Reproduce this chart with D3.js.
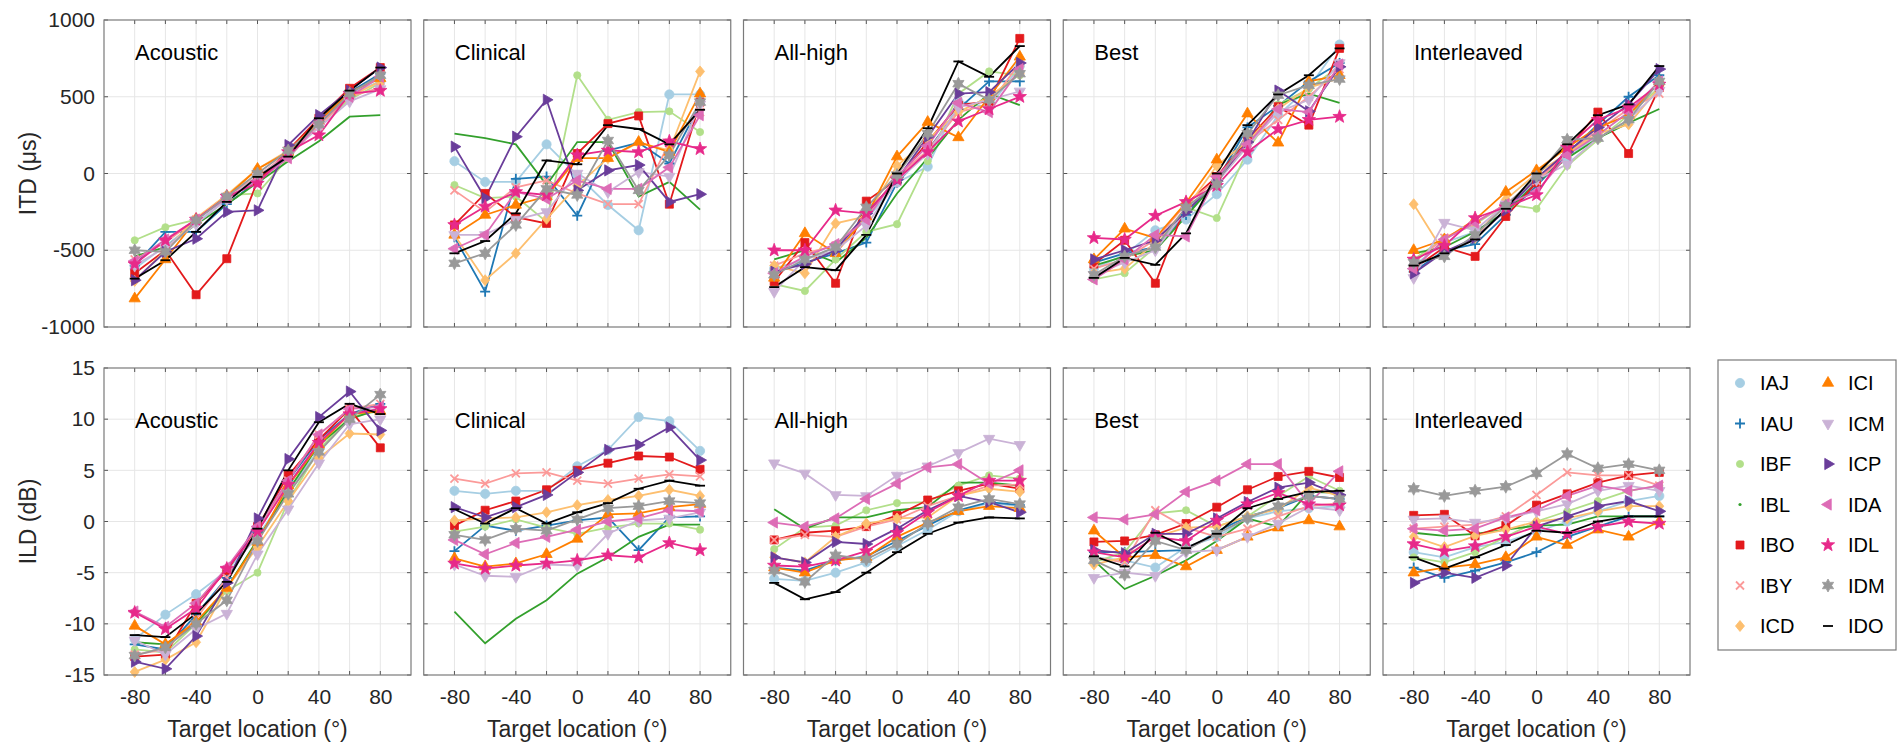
<!DOCTYPE html>
<html>
<head>
<meta charset="utf-8">
<script src="https://cdn.jsdelivr.net/npm/d3@7"></script>
<style>
  body { margin: 0; background: #fff; }
  svg { display: block; font-family: "Liberation Sans", Arial, sans-serif; }
</style>
</head>
<body>
<script>
const angles = [-80, -60, -40, -20, 0, 20, 40, 60, 80];
const subjects = ["IAJ","IAU","IBF","IBL","IBO","IBY","ICD","ICI","ICM","ICP","IDA","IDL","IDM","IDO"];
const colors = ["#a6cee3","#1f78b4","#b2df8a","#33a02c","#e31a1c","#fb9a99","#fdbf6f","#ff7f00","#cab2d6","#6a3d9a","#dd6cb6","#e7298a","#999999","#000000"];
const markers = ["circle","plus","dot","point","square","x","diamond","triUp","triDown","triRight","triLeft","star","hexagram","dash"];
const conditions = ["Acoustic","Clinical","All-high","Best","Interleaved"];
const itdTicks = [-1000, -500, 0, 500, 1000];
const ildTicks = [-15, -10, -5, 0, 5, 10, 15];
const xTickLabels = [-80, -40, 0, 40, 80];

// ITD (us), rows follow subjects
const itdAcoustic = [
  [-620,-470,-320,-170,-40,120,330,520,600],
  [-600,-380,-380,-200,-50,110,340,530,650],
  [-435,-350,-300,-140,-130,100,320,480,590],
  [-540,-480,-330,-200,-60,80,210,370,380],
  [-650,-500,-790,-555,-50,150,360,555,690],
  [-560,-450,-300,-150,-20,130,310,500,560],
  [-700,-500,-290,-140,30,150,330,500,600],
  [-815,-560,-300,-150,30,140,340,530,620],
  [-600,-480,-330,-170,-20,120,300,470,550],
  [-695,-510,-425,-250,-240,185,380,540,690],
  [-570,-430,-300,-160,-50,100,330,500,630],
  [-590,-435,-300,-150,-65,140,250,520,540],
  [-500,-510,-305,-150,0,150,320,520,640],
  [-685,-565,-380,-185,-22,110,360,540,690]
];
const itdClinical = [
  [80,-55,-55,190,-10,-205,-370,515,515],
  [-415,-770,-35,-20,-275,150,200,65,450],
  [-75,-160,-150,-315,640,350,400,405,270],
  [260,230,190,-75,205,205,-150,-55,-235],
  [-335,-130,-285,-325,130,325,375,-200,465],
  [-110,-250,-90,-45,-130,-200,-200,200,400],
  [-400,-695,-520,-295,-80,100,200,150,665],
  [-400,-270,-205,-150,100,100,205,140,520],
  [-400,-400,-300,-250,0,-120,10,-20,450],
  [175,-160,240,480,-110,20,55,-185,-135],
  [-490,-400,-120,-165,-45,-100,-100,40,380],
  [-335,-215,-120,-140,120,150,140,210,160],
  [-585,-520,-335,-100,-140,215,-110,120,465],
  [-520,-440,-260,85,60,315,290,190,415]
];
const itdAllHigh = [
  [-620,-560,-480,-300,-60,45,470,430,700],
  [-640,-580,-520,-450,-60,150,420,600,600],
  [-720,-765,-560,-380,-330,80,520,665,640],
  [-560,-500,-580,-420,-130,100,350,520,445],
  [-705,-450,-715,-180,-40,205,445,470,880],
  [-600,-520,-470,-280,-20,150,400,450,720],
  [-600,-650,-325,-280,50,220,400,500,650],
  [-680,-390,-520,-280,110,335,235,500,760],
  [-770,-560,-500,-340,-50,130,430,480,535],
  [-640,-590,-500,-260,-40,240,520,530,720],
  [-650,-540,-460,-300,-20,180,460,400,680],
  [-500,-500,-240,-260,-40,140,340,420,500],
  [-660,-560,-480,-220,-10,260,585,480,650],
  [-740,-610,-630,-400,0,295,730,630,830]
];
const itdBest = [
  [-620,-530,-370,-300,-135,90,380,560,840],
  [-580,-520,-480,-270,-50,300,440,600,720],
  [-690,-650,-480,-220,-290,150,450,550,700],
  [-600,-540,-500,-280,-50,180,450,520,460],
  [-590,-435,-715,-200,-20,220,435,315,815],
  [-620,-560,-430,-200,-40,200,350,500,680],
  [-650,-620,-450,-230,50,210,420,560,620],
  [-560,-360,-420,-190,90,390,200,600,640],
  [-660,-580,-500,-240,-60,180,400,480,720],
  [-560,-500,-435,-250,-50,205,540,405,695],
  [-690,-560,-400,-410,-20,190,420,400,710],
  [-420,-430,-275,-185,-80,140,290,350,370],
  [-660,-540,-480,-220,-70,260,510,575,615],
  [-680,-550,-595,-390,0,315,515,640,815]
];
const itdInterleaved = [
  [-600,-450,-380,-250,-40,100,250,400,600],
  [-640,-500,-460,-270,-80,130,320,500,640],
  [-560,-420,-330,-200,-230,50,220,380,560],
  [-520,-480,-380,-250,-60,100,230,330,420],
  [-620,-480,-540,-280,-60,150,400,130,560],
  [-580,-420,-320,-200,-50,130,280,420,520],
  [-200,-520,-420,-170,0,130,260,320,560],
  [-500,-430,-300,-120,20,170,300,380,600],
  [-680,-320,-370,-200,-40,60,230,350,540],
  [-650,-510,-420,-240,-30,140,300,450,680],
  [-620,-430,-320,-200,-120,120,250,400,600],
  [-560,-470,-290,-220,-140,170,350,430,580],
  [-580,-540,-400,-210,-20,220,230,350,600],
  [-600,-520,-430,-230,0,190,380,450,700]
];

// ILD (dB), rows follow subjects
const ildAcoustic = [
  [-11.5,-9.1,-7.1,-4.8,-1.5,3.0,7.0,10.0,11.2],
  [-12.0,-12.5,-9.1,-5.5,-1.0,4.0,8.0,10.5,11.5],
  [-12.5,-12.8,-10.0,-6.8,-5.0,2.0,7.0,10.2,10.8],
  [-11.8,-12.0,-10.0,-6.5,-1.8,3.0,7.5,10.0,11.0],
  [-13.2,-13.0,-8.0,-4.8,-0.5,4.5,8.0,11.0,7.2],
  [-13.0,-12.5,-9.5,-5.5,-1.0,4.0,8.5,11.0,11.5],
  [-14.7,-13.5,-11.8,-6.5,-2.5,2.0,6.2,8.6,8.5],
  [-10.2,-12.0,-9.8,-6.5,-2.0,3.5,7.5,10.5,10.8],
  [-11.6,-13.0,-10.5,-9.0,-3.2,1.2,5.7,9.5,10.0],
  [-13.7,-14.4,-11.2,-6.0,0.3,6.1,10.2,12.7,8.9],
  [-8.8,-10.3,-8.0,-4.5,-0.5,4.0,8.5,11.0,11.2],
  [-8.9,-10.5,-8.5,-4.6,-1.0,3.6,7.7,10.5,11.0],
  [-13.1,-12.3,-10.0,-7.7,-1.9,2.7,6.8,10.0,12.4],
  [-11.1,-11.3,-9.0,-5.9,-0.7,5.0,9.7,11.5,10.5]
];
const ildClinical = [
  [3.0,2.7,3.0,3.0,5.4,7.0,10.2,9.8,6.9],
  [-2.9,-0.4,-0.9,-0.4,0.1,0.4,-2.8,0.4,0.5],
  [-1.0,-0.5,0.2,-0.6,-1.2,-0.6,-0.2,-0.2,-0.8],
  [-8.8,-11.9,-9.5,-7.7,-5.1,-3.5,-1.5,-0.3,-0.3],
  [-0.4,1.1,2.0,3.1,5.0,5.7,6.4,6.3,5.1],
  [4.2,3.7,4.7,4.8,4.0,3.7,4.2,4.6,4.4],
  [0.1,0.3,0.4,0.9,1.6,2.1,2.5,3.1,2.5],
  [-3.6,-4.4,-4.1,-3.2,-1.7,0.7,0.8,1.4,1.7],
  [-4.2,-5.3,-5.4,-4.2,-4.3,-1.2,0.1,0.3,0.9],
  [1.4,0.4,1.4,2.6,4.8,7.0,7.5,9.2,6.0],
  [-1.8,-3.2,-2.1,-1.5,-0.8,0.0,0.3,1.1,1.0],
  [-4.1,-4.6,-4.3,-4.1,-3.8,-3.3,-3.5,-2.1,-2.8],
  [-1.3,-1.8,-0.7,-0.9,0.2,1.3,1.5,2.0,1.8],
  [1.2,-0.2,1.3,-0.2,0.9,1.8,3.2,4.0,3.5]
];
const ildAllHigh = [
  [-5.6,-5.8,-5.0,-4.0,-2.4,-0.8,1.0,1.8,1.5],
  [-4.5,-4.8,-3.8,-3.4,-1.9,-0.4,1.1,1.9,1.6],
  [-2.7,-0.6,-0.4,1.1,1.8,1.9,3.5,4.5,4.2],
  [1.2,-0.7,0.4,0.4,1.1,1.4,3.8,3.8,3.5],
  [-1.8,-1.1,-0.9,-0.5,0.6,2.1,3.0,3.7,3.2],
  [-1.8,-1.3,-1.5,-0.5,0.2,1.5,2.5,3.5,3.6],
  [-3.5,-4.0,-1.5,-0.2,0.3,0.4,2.5,3.2,2.9],
  [-4.5,-5.0,-3.8,-3.5,-1.5,-0.1,1.0,1.5,1.3],
  [5.7,4.7,2.6,2.5,4.5,5.4,6.7,8.1,7.5],
  [-3.5,-4.0,-2.0,-2.2,-0.7,1.1,2.5,1.9,0.9],
  [-0.1,-0.5,0.3,2.2,3.7,5.3,5.6,3.7,5.0],
  [-4.3,-4.4,-3.8,-2.9,-1.1,0.9,2.5,4.0,4.0],
  [-4.8,-5.9,-3.3,-3.7,-2.2,-0.2,1.4,2.2,1.7],
  [-6.0,-7.6,-6.9,-5.0,-3.0,-1.2,-0.1,0.4,0.3]
];
const ildBest = [
  [-3.5,-3.8,-4.5,-2.5,-1.5,0.3,1.0,1.3,1.5],
  [-3.0,-3.0,-2.9,-2.8,-1.0,0.5,1.3,2.5,2.2],
  [-4.0,-3.0,0.8,1.1,-0.5,0.5,2.5,4.4,3.0],
  [-3.8,-6.6,-5.3,-3.8,-1.9,0.3,-0.5,2.9,2.8],
  [-2.0,-1.9,-1.3,-0.2,1.4,3.1,4.4,4.9,4.3],
  [-3.5,-4.0,1.1,-0.6,-1.5,-0.7,0.5,1.5,1.8],
  [-4.2,-3.5,-1.5,-0.6,-0.5,0.5,1.2,3.3,2.5],
  [-0.9,-3.5,-3.3,-4.4,-2.8,-1.5,-0.6,0.1,-0.5],
  [-5.5,-5.0,-5.3,-3.0,-2.8,-1.5,-0.2,1.4,1.1],
  [-2.8,-3.1,-1.2,-1.2,0.3,1.9,3.3,3.8,2.6],
  [0.4,0.2,0.7,2.9,4.0,5.6,5.6,1.7,4.9],
  [-3.0,-3.5,-1.5,-1.9,0.1,1.7,2.8,1.7,1.6],
  [-3.8,-5.2,-1.9,-2.8,-1.2,0.3,1.5,2.5,2.2],
  [-3.4,-4.4,-1.1,-2.6,-1.2,1.3,2.2,2.9,3.0]
];
const ildInterleaved = [
  [-3.0,-3.5,-2.5,-2.0,-1.0,0.0,1.0,2.0,2.5],
  [-4.5,-5.5,-4.8,-4.0,-3.0,-1.5,-0.5,0.5,0.5],
  [-3.5,-4.0,-3.0,-1.5,0.0,1.0,2.0,3.0,3.5],
  [-1.1,-1.4,-1.2,-0.8,-0.4,-0.3,0.5,0.5,0.5],
  [0.6,0.7,-1.4,-0.4,1.6,2.7,3.8,4.5,4.8],
  [-0.7,-0.5,-0.3,0.5,2.6,4.8,4.5,4.5,3.5],
  [-1.5,-2.5,-1.4,-0.8,0.0,0.3,1.0,1.5,1.5],
  [-5.0,-4.5,-4.2,-3.5,-1.5,-2.3,-0.8,-1.5,0.0],
  [0.2,0.3,-0.1,0.3,1.0,1.7,3.0,3.5,3.0],
  [-6.0,-5.0,-5.5,-4.3,-0.5,0.5,1.5,2.0,1.0],
  [-0.7,-0.9,-0.7,0.4,1.1,2.5,3.5,3.0,3.5],
  [-2.2,-2.9,-2.4,-1.5,-0.5,-1.2,-0.5,0.0,-0.2],
  [3.2,2.5,3.0,3.4,4.7,6.6,5.2,5.6,5.0],
  [-3.5,-4.6,-3.5,-2.3,-0.9,-1.1,0.0,0.5,0.5]
];

const itdData = [itdAcoustic, itdClinical, itdAllHigh, itdBest, itdInterleaved];
const ildData = [ildAcoustic, ildClinical, ildAllHigh, ildBest, ildInterleaved];

const W = 1902, H = 749;
const panelW = 307, panelH = 307;
const panelLeft = 104, panelStep = 319.75;
const rowTop = [20, 368];

const svg = d3.select("body").append("svg")
  .attr("width", W)
  .attr("height", H);

function poly(n, r, r2, rot) {
  let pts = [];
  for (let i = 0; i < n * (r2 ? 2 : 1); i++) {
    const step = r2 ? Math.PI / n : 2 * Math.PI / n;
    const a = rot + i * step;
    const rr = (r2 && i % 2) ? r2 : r;
    pts.push([rr * Math.sin(a), -rr * Math.cos(a)]);
  }
  return "M" + pts.map(p => p[0].toFixed(2) + "," + p[1].toFixed(2)).join("L") + "Z";
}

function markerPath(type) {
  switch (type) {
    case "circle": return d3.symbol(d3.symbolCircle, Math.PI * 4.6 * 4.6)();
    case "dot": return d3.symbol(d3.symbolCircle, Math.PI * 3.6 * 3.6)();
    case "point": return d3.symbol(d3.symbolCircle, Math.PI * 1.6 * 1.6)();
    case "square": return "M-4,-4L4,-4L4,4L-4,4Z";
    case "diamond": return "M0,-5.5L4.5,0L0,5.5L-4.5,0Z";
    case "triUp": return poly(3, 6.5, 0, 0);
    case "triDown": return poly(3, 6.5, 0, Math.PI);
    case "triRight": return poly(3, 6.5, 0, Math.PI / 2);
    case "triLeft": return poly(3, 6.5, 0, -Math.PI / 2);
    case "star": return poly(5, 7, 2.9, 0);
    case "hexagram": return poly(6, 6.5, 3.6, 0);
    case "plus": return "M-5,0L5,0M0,-5L0,5";
    case "x": return "M-4,-4L4,4M-4,4L4,-4";
    case "dash": return "M-5,0L5,0";
  }
}
const strokeOnly = new Set(["plus", "x", "dash"]);

function drawMarker(g, type, color, x, y) {
  const p = g.append("path")
    .attr("d", markerPath(type))
    .attr("transform", "translate(" + x + "," + y + ")");
  if (strokeOnly.has(type)) {
    p.attr("fill", "none").attr("stroke", color).attr("stroke-width", 1.8);
  } else {
    p.attr("fill", color).attr("stroke", color).attr("stroke-width", 0.8);
  }
}

const x = d3.scaleLinear().domain([-100, 100]).range([0, panelW]);
const yItd = d3.scaleLinear().domain([-1000, 1000]).range([panelH, 0]);
const yIld = d3.scaleLinear().domain([-15, 15]).range([panelH, 0]);

function drawPanel(row, col, data, y, ticks) {
  const g = svg.append("g")
    .attr("transform", "translate(" + (panelLeft + col * panelStep) + "," + rowTop[row] + ")");

  // grid
  g.append("g").selectAll("line.vg").data(angles).enter().append("line")
    .attr("x1", d => x(d)).attr("x2", d => x(d))
    .attr("y1", 0).attr("y2", panelH)
    .attr("stroke", "#e6e6e6").attr("stroke-width", 1);
  g.append("g").selectAll("line.hg").data(ticks.slice(1, -1)).enter().append("line")
    .attr("x1", 0).attr("x2", panelW)
    .attr("y1", d => y(d)).attr("y2", d => y(d))
    .attr("stroke", "#e6e6e6").attr("stroke-width", 1);

  // inward ticks on all sides
  const tk = g.append("g").attr("stroke", "#555").attr("stroke-width", 1);
  angles.forEach(a => {
    tk.append("line").attr("x1", x(a)).attr("x2", x(a)).attr("y1", panelH).attr("y2", panelH - 4);
    tk.append("line").attr("x1", x(a)).attr("x2", x(a)).attr("y1", 0).attr("y2", 4);
  });
  ticks.forEach(t => {
    tk.append("line").attr("x1", 0).attr("x2", 4).attr("y1", y(t)).attr("y2", y(t));
    tk.append("line").attr("x1", panelW).attr("x2", panelW - 4).attr("y1", y(t)).attr("y2", y(t));
  });

  // lines
  const line = d3.line().x((d, i) => x(angles[i])).y(d => y(d));
  data.forEach((row, i) => {
    g.append("path").datum(row)
      .attr("d", line)
      .attr("fill", "none")
      .attr("stroke", colors[i])
      .attr("stroke-width", 1.8);
  });
  data.forEach((row, i) => {
    if (markers[i] === "point") return;
    row.forEach((v, j) => drawMarker(g, markers[i], colors[i], x(angles[j]), y(v)));
  });

  // box
  g.append("rect").attr("width", panelW).attr("height", panelH)
    .attr("fill", "none").attr("stroke", "#7a7a7a").attr("stroke-width", 1.2);

  // condition label
  g.append("text")
    .attr("x", 31).attr("y", row === 0 ? 40 : 60)
    .attr("font-size", 22).attr("fill", "#000")
    .text(conditions[col]);

  // y tick labels on first column
  if (col === 0) {
    const ax = d3.axisLeft(y).tickValues(ticks).tickSize(0).tickPadding(9)
      .tickFormat(d => String(d));
    const axg = g.append("g").call(ax);
    axg.select(".domain").remove();
    axg.selectAll("text").attr("font-size", 21).attr("fill", "#262626")
      .attr("font-family", "Liberation Sans, Arial, sans-serif");
  }
  // x tick labels on bottom row
  if (row === 1) {
    const ax = d3.axisBottom(x).tickValues(xTickLabels).tickSize(0).tickPadding(14)
      .tickFormat(d => String(d));
    const axg = g.append("g").attr("transform", "translate(0," + panelH + ")").call(ax);
    axg.select(".domain").remove();
    axg.selectAll("text").attr("font-size", 21).attr("fill", "#262626")
      .attr("font-family", "Liberation Sans, Arial, sans-serif");
    g.append("text")
      .attr("x", panelW / 2).attr("y", panelH + 62)
      .attr("text-anchor", "middle").attr("font-size", 23).attr("fill", "#262626")
      .text("Target location (°)");
  }
}

for (let c = 0; c < 5; c++) {
  drawPanel(0, c, itdData[c], yItd, itdTicks);
  drawPanel(1, c, ildData[c], yIld, ildTicks);
}

// y axis titles
svg.append("text")
  .attr("transform", "translate(36," + (rowTop[0] + panelH / 2) + ") rotate(-90)")
  .attr("text-anchor", "middle").attr("font-size", 23).attr("fill", "#262626")
  .text("ITD (μs)");
svg.append("text")
  .attr("transform", "translate(36," + (rowTop[1] + panelH / 2) + ") rotate(-90)")
  .attr("text-anchor", "middle").attr("font-size", 23).attr("fill", "#262626")
  .text("ILD (dB)");

// legend
const lg = svg.append("g").attr("transform", "translate(1718,360)");
lg.append("rect").attr("width", 178).attr("height", 290)
  .attr("fill", "#fff").attr("stroke", "#7a7a7a").attr("stroke-width", 1.2);
subjects.forEach((s, i) => {
  const col = i < 7 ? 0 : 1;
  const r = i % 7;
  const gx = 22 + col * 88, gy = 23 + r * 40.5;
  if (markers[i] === "point") {
    lg.append("circle").attr("cx", gx).attr("cy", gy).attr("r", 1.6).attr("fill", colors[i]);
  } else {
    drawMarker(lg, markers[i], colors[i], gx, gy);
  }
  lg.append("text").attr("x", gx + 20).attr("y", gy + 7)
    .attr("font-size", 20).attr("fill", "#000").text(s);
});
</script>
</body>
</html>
